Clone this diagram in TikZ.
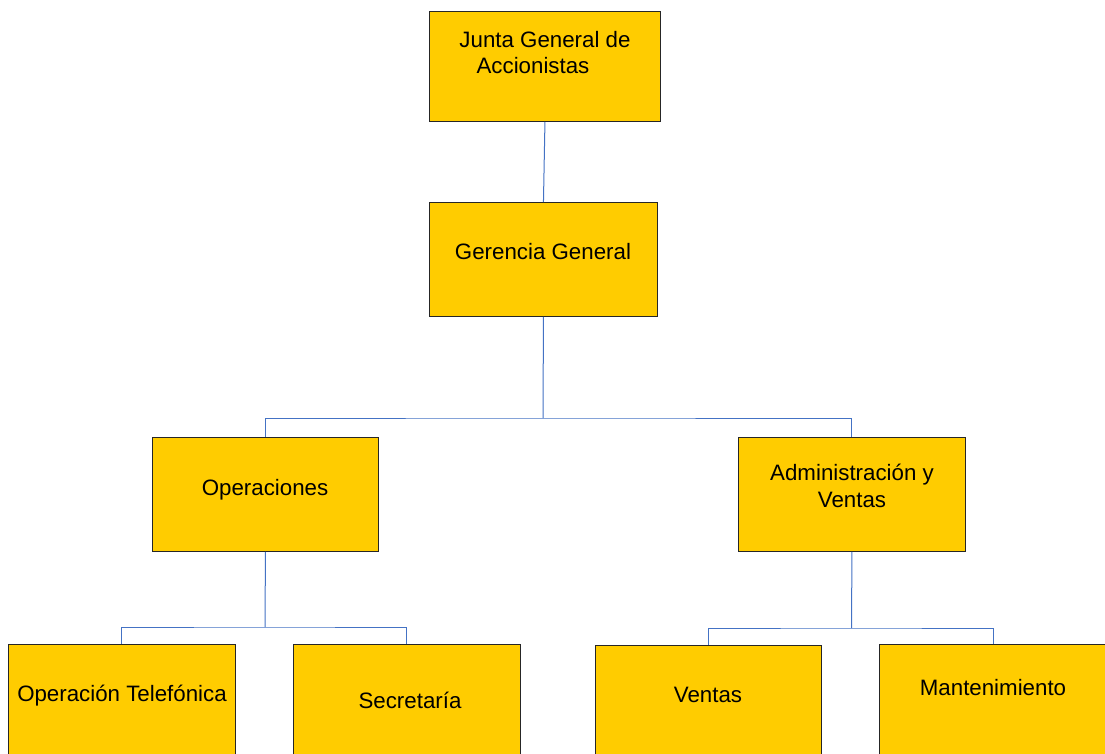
\documentclass[tikz,border=0pt]{standalone}
\usepackage{fontspec}
\setmainfont{Liberation Sans}
\definecolor{boxfill}{HTML}{FFCC00}
\definecolor{connblue}{HTML}{4472C4}
\begin{document}
\begin{tikzpicture}[x=1pt,y=-1pt,
  box/.style={draw=black!85, fill=boxfill, line width=0.9pt, anchor=north west, inner sep=0pt},
  lbl/.style={anchor=base, inner sep=0pt, font=\fontsize{22.3}{27}\selectfont, text=black},
  conn/.style={draw=connblue, line width=1pt}]
\useasboundingbox (0,0) rectangle (1105,754);
\clip (0,0) rectangle (1105,754);
\fill[white] (0,0) rectangle (1105,754);
% boxes
\node[box, minimum width=231, minimum height=110] (jun) at (429,11) {};
\node[box, minimum width=228, minimum height=114] (ger) at (429,202) {};
\node[box, minimum width=226, minimum height=114] (ope) at (152,437) {};
\node[box, minimum width=227, minimum height=114] (adm) at (738,437) {};
\node[box, minimum width=227, minimum height=130] (tel) at (8,644) {};
\node[box, minimum width=227, minimum height=130] (sec) at (293,644) {};
\node[box, minimum width=226, minimum height=130] (ven) at (595,645) {};
\node[box, minimum width=228, minimum height=130] (man) at (879,644) {};
% labels
\node[lbl] (tj1) at (545,48) {Junta General de};
\node[lbl] (tj2) at (533,74) {Accionistas};
\node[lbl] (tg) at (543,259) {Gerencia General};
\node[lbl] (to) at (265,495) {Operaciones};
\node[lbl] (ta1) at (852,480) {Administración y};
\node[lbl] (ta2) at (852,507) {Ventas};
\node[lbl] (tt) at (122,701) {Operación Telefónica};
\node[lbl] (ts) at (410,708) {Secretaría};
\node[lbl] (tv) at (708,702) {Ventas};
\node[lbl] (tm) at (993,695) {Mantenimiento};
% connectors
\coordinate (b1) at (543,418);
\coordinate (b2) at (265,627);
\coordinate (b3) at (851.5,628);
\draw[conn] (jun.south) -- (ger.north);
\draw[conn] (ger.south) -- (b1);
\draw[conn] (ope.north) |- (b1) -| (adm.north);
\draw[conn] (ope.south) -- (b2);
\draw[conn] (tel.north) |- (b2) -| (sec.north);
\draw[conn] (adm.south) -- (b3);
\draw[conn] (ven.north) |- (b3) -| (man.north);
\end{tikzpicture}
\end{document}
